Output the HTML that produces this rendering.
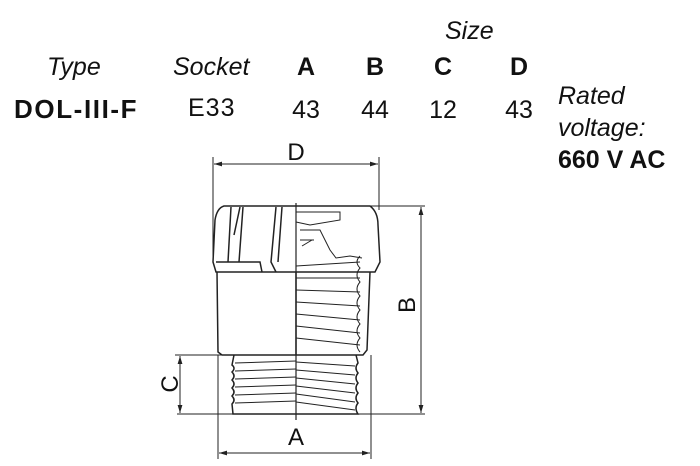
<!DOCTYPE html>
<html><head><style>
body{margin:0;width:700px;height:466px;background:#fff;overflow:hidden;font-family:"Liberation Sans",sans-serif;color:#111}
.t{position:absolute;font-size:25px;white-space:nowrap;line-height:1}
.i{font-style:italic}
.b{font-weight:bold}
.c{transform:translateX(-50%)}
</style></head><body>
<div class="t i" style="left:445px;top:19px">Size</div>
<div class="t i" style="left:47px;top:55px">Type</div>
<div class="t i" style="left:173px;top:55px">Socket</div>
<div class="t b c" style="left:306px;top:55px">A</div>
<div class="t b c" style="left:375px;top:55px">B</div>
<div class="t b c" style="left:443px;top:55px">C</div>
<div class="t b c" style="left:519px;top:55px">D</div>
<div class="t b" style="left:14px;top:96px;font-size:26px;letter-spacing:1.6px">DOL-III-F</div>
<div class="t" style="left:188px;top:96px;letter-spacing:1px">E33</div>
<div class="t c" style="left:306px;top:98px">43</div>
<div class="t c" style="left:375px;top:98px">44</div>
<div class="t c" style="left:443px;top:98px">12</div>
<div class="t c" style="left:519px;top:98px">43</div>
<div class="t i" style="left:558px;top:84px">Rated</div>
<div class="t i" style="left:558px;top:116px">voltage:</div>
<div class="t b" style="left:558px;top:148px">660 V AC</div>
<svg width="700" height="466" style="position:absolute;left:0;top:0" fill="none" stroke="#222" stroke-width="1.5">
<defs><marker id="a" viewBox="0 0 10 10" refX="10" refY="5" markerWidth="8" markerHeight="8" orient="auto-start-reverse"><path d="M0,2L10,5L0,8z" fill="#222" stroke="none"/></marker></defs>
<line x1="213" y1="157" x2="213" y2="258" stroke-width="1"/>
<line x1="379" y1="157" x2="379" y2="210" stroke-width="1"/>
<line x1="214" y1="164" x2="378" y2="164" marker-start="url(#a)" marker-end="url(#a)" stroke-width="1"/>
<text x="296" y="160" font-size="24" text-anchor="middle" fill="#111" stroke="none" font-family="Liberation Sans">D</text>
<line x1="365" y1="206" x2="425" y2="206" stroke-width="1"/>
<line x1="177" y1="414" x2="425" y2="414" stroke-width="1"/>
<line x1="421" y1="207" x2="421" y2="413" marker-start="url(#a)" marker-end="url(#a)" stroke-width="1"/>
<text transform="translate(415,305) rotate(-90)" font-size="24" text-anchor="middle" fill="#111" stroke="none" font-family="Liberation Sans">B</text>
<line x1="175" y1="355" x2="240" y2="355" stroke-width="1"/>
<line x1="180" y1="356" x2="180" y2="413" marker-start="url(#a)" marker-end="url(#a)" stroke-width="1"/>
<text transform="translate(178,384) rotate(-90)" font-size="24" text-anchor="middle" fill="#111" stroke="none" font-family="Liberation Sans">C</text>
<line x1="218" y1="355" x2="218" y2="459" stroke-width="1"/>
<line x1="371" y1="355" x2="371" y2="459" stroke-width="1"/>
<line x1="219" y1="453" x2="370" y2="453" marker-start="url(#a)" marker-end="url(#a)" stroke-width="1"/>
<text x="296" y="445" font-size="24" text-anchor="middle" fill="#111" stroke="none" font-family="Liberation Sans">A</text>
<path d="M224,206 L370,206 Q378,212 378,225 L380,262 L375,272 L216,272 L213,262 L215,220 Q217,208 224,206Z"/>
<path d="M231,207 L228,262 M240,207 L234,235 M243,207 L239,262 M216,262 L260,262 L262,272"/>
<path d="M276,207 L271,262 L276,272 M282,207 L278,262"/>
<path d="M217,272 L218,352 L222,355 L296,355 M296,272 L296,355 L363,355 L367,350 L370,272"/>
<path d="M234,355 L232,365 Q236,368 232,372 Q236,376 232,380 Q236,384 232,388 Q236,392 232,396 Q236,400 232,404 L233,414 L358,414 Q354,408 358,403 Q354,398 358,393 Q354,388 358,383 Q354,378 358,373 Q354,368 358,363 L356,355"/>
<g stroke-width="1">
<line x1="235" y1="363" x2="296" y2="361"/><line x1="235" y1="371" x2="296" y2="369"/><line x1="235" y1="379" x2="296" y2="377"/><line x1="235" y1="387" x2="296" y2="385"/><line x1="235" y1="395" x2="296" y2="393"/><line x1="235" y1="403" x2="296" y2="401"/>
<line x1="296" y1="362" x2="355" y2="366"/><line x1="296" y1="370" x2="355" y2="375"/><line x1="296" y1="378" x2="355" y2="384"/><line x1="296" y1="386" x2="355" y2="393"/><line x1="296" y1="394" x2="355" y2="402"/><line x1="296" y1="402" x2="355" y2="410"/>
<line x1="296" y1="266" x2="360" y2="262"/><line x1="296" y1="278" x2="360" y2="278"/><line x1="296" y1="290" x2="360" y2="292"/><line x1="296" y1="302" x2="360" y2="306"/><line x1="296" y1="314" x2="360" y2="320"/><line x1="296" y1="326" x2="360" y2="333"/><line x1="296" y1="338" x2="360" y2="345"/>
<path d="M360,256 Q354,262 360,268 Q354,275 360,282 Q354,289 360,296 Q354,303 360,310 Q354,317 360,324 Q354,331 360,338 Q354,345 360,352"/>
<path d="M296,212 L340,212 L340,220 L310,225 L296,222 M300,230 L320,230 L330,250 L336,258 L350,256 L362,258"/>
<path d="M300,240 L314,240 M302,246 L312,240"/>
</g>
<line x1="296" y1="203" x2="296" y2="420" stroke-width="1.2"/>
</svg>
</body></html>
